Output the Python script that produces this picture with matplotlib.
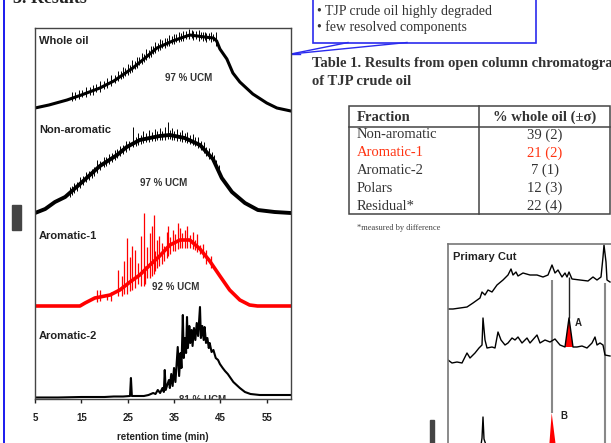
import numpy as np
import matplotlib.pyplot as plt
from matplotlib.patches import Rectangle

plt.rcParams['font.family'] = ['Liberation Sans', 'DejaVu Sans']
SERIF = ['Liberation Serif', 'DejaVu Serif']

# ---- chromatograms: retention time (min) vs response (arbitrary units)
wo_t = [5.0, 8.0, 11.9, 15.0, 19.0, 22.0, 26.1, 28.5, 31.3, 34.7, 36.5, 38.4, 40.0, 41.6,
        43.5, 44.2, 44.9, 46.4, 47.7, 49.2, 52.0, 55.0, 57.2, 60.2]
wo_y = [4, 7, 12, 17, 24, 31, 44, 53, 64, 71, 74, 77, 76, 75, 74, 71, 63, 53, 39, 30, 18, 9, 4, 1]
wo_spk_t = [13.0, 14.5, 16.0, 17.5, 19.0, 20.5, 21.5, 23.0, 24.0, 25.0, 26.0, 27.0, 28.0, 29.0,
            30.0, 31.0, 32.0, 33.0, 34.0, 35.0, 36.0, 37.0, 38.3, 39.2, 40.3, 41.2, 42.0, 43.0, 44.0]
wo_spk_lo = [11, 13, 15, 17, 20, 24, 26, 31, 34, 37, 40, 44, 48, 52, 55, 59, 62, 64, 66, 68, 70,
             71, 73, 72, 71, 71, 70, 70, 66]
wo_spk_hi = [20, 22, 25, 27, 31, 34, 37, 41, 45, 48, 52, 55, 59, 63, 66, 70, 73, 74, 77, 78, 80,
             81, 83, 81, 82, 80, 79, 80, 80]
wo_hair_t = [13.7, 15.2, 16.8, 18.2, 19.8, 22.2, 23.5, 24.5, 25.5, 26.5, 27.5, 28.5, 29.5, 30.5,
             31.5, 32.5, 33.5, 34.5, 35.5, 36.5, 37.5, 38.8, 39.7, 40.8, 41.6, 42.5, 43.5]
wo_hair_lo = [12, 15, 17, 20, 23, 29, 33, 36, 39, 43, 47, 50, 54, 58, 61, 64, 66, 68, 70, 71, 73,
              74, 73, 73, 72, 72, 71]
wo_hair_hi = [20, 22, 25, 28, 31, 37, 41, 44, 47, 51, 55, 58, 62, 66, 69, 72, 74, 76, 78, 79, 81,
              82, 81, 80, 80, 79, 78]

na_t = [5.0, 7.2, 9.3, 11.5, 14.7, 19.0, 22.7, 24.8, 27.6, 31.9, 34.1, 37.3, 40.6, 43.4, 45.3,
        47.5, 50.3, 53.1, 56.7, 60.2]
na_y = [0, 4, 11, 16, 29, 47, 58, 66, 73, 77, 78, 75, 68, 54, 35, 21, 10, 3, 1, 0]
na_spk_t = [12.5, 13.5, 14.7, 16.0, 17.2, 18.4, 19.8, 21.0, 22.2, 23.4, 24.6, 26.1, 27.2, 28.4,
            29.6, 30.8, 32.0, 33.0, 33.7, 34.6, 35.6, 36.7, 37.8, 39.0, 40.2, 41.5, 42.6, 43.6, 44.6]
na_spk_lo = [16, 20, 25, 31, 35, 40, 46, 49, 53, 57, 61, 66, 68, 70, 71, 72, 73, 73, 74, 73, 72,
             71, 70, 68, 65, 60, 54, 48, 38]
na_spk_hi = [26, 30, 36, 41, 44, 53, 56, 59, 63, 67, 72, 86, 80, 82, 83, 84, 85, 86, 91, 85, 84,
             83, 81, 79, 76, 71, 65, 58, 48]
na_hair_t = [13.0, 14.1, 15.3, 16.6, 17.8, 19.1, 20.4, 21.6, 22.8, 24.0, 25.3, 26.7, 27.8, 29.0,
             30.2, 31.4, 32.5, 34.2, 35.1, 36.2, 37.3, 38.4, 39.6, 40.8, 42.0, 43.1, 44.1]
na_hair_lo = [18, 22, 28, 33, 37, 43, 47, 51, 55, 59, 63, 67, 69, 71, 72, 73, 73, 74, 73, 72, 71,
              69, 67, 63, 57, 52, 44]
na_hair_hi = [27, 31, 37, 42, 46, 52, 56, 60, 64, 68, 72, 76, 78, 80, 81, 82, 82, 83, 82, 81, 80,
              78, 76, 72, 66, 61, 53]

a1_t = [5.0, 14.7, 15.8, 17.9, 21.2, 23.3, 25.5, 27.6, 29.8, 31.9, 34.1, 36.3, 38.4, 40.6, 42.7,
        44.9, 47.0, 49.2, 51.3, 53.0, 60.2]
a1_y = [0, 0, 3, 8, 11, 16, 24, 31, 41, 50, 61, 66, 66, 57, 45, 30, 16, 6, 1, 0, 0]
a1_spk_t = [18.4, 19.0, 20.5, 22.9, 24.8, 25.5, 26.6, 27.2, 28.5, 29.1, 29.8, 30.7, 31.3, 32.4,
            33.4, 34.1, 34.7, 35.8, 36.7, 37.3, 38.4, 39.5, 40.6]
a1_spk_lo = [4, 5, 6, 10, 12, 15, 18, 22, 20, 28, 28, 32, 38, 42, 48, 52, 55, 57, 58, 58, 58, 56, 52]
a1_spk_hi = [16, 16, 12, 36, 68, 49, 56, 43, 93, 59, 73, 91, 66, 63, 74, 69, 76, 83, 73, 76, 71, 66, 61]
a1_hair_t = [21.5, 23.8, 24.3, 26.0, 27.9, 28.8, 30.2, 31.0, 31.8, 32.9, 33.8, 35.2, 36.2, 37.8,
             39.0, 40.0, 41.2, 42.0, 43.0]
a1_hair_lo = [5, 10, 12, 16, 20, 22, 30, 35, 40, 45, 50, 55, 58, 58, 57, 54, 48, 42, 38]
a1_hair_hi = [14, 30, 45, 60, 70, 40, 80, 55, 70, 60, 80, 72, 78, 80, 74, 72, 62, 56, 50]

a2_t = [5.0, 10.0, 15.0, 20.0, 22.0, 24.0, 25.5, 25.7, 25.9, 27.0, 28.5, 29.5, 30.5, 31.0, 31.5,
        32.0, 32.5, 32.8, 33.0, 33.2, 33.6, 33.9, 34.1, 34.4, 34.7, 35.0, 35.3, 35.8, 36.1, 36.4,
        36.6, 36.9, 37.1, 37.4, 37.6, 37.8, 38.0, 38.3, 38.5, 38.8, 39.0, 39.3, 39.6, 39.9, 40.2,
        40.6, 40.8, 41.1, 41.4, 41.6, 41.9, 42.2, 42.5, 42.7, 43.1, 43.5, 44.0, 44.5, 44.9, 45.5,
        46.0, 46.6, 47.2, 47.8, 48.5, 49.2, 50.3, 51.5, 53.5, 56.0, 58.0, 60.2]
a2_y = [0.5, 0.5, 1, 1, 1.5, 1.5, 2, 20, 2, 2, 2, 3, 5, 4, 8, 5, 10, 6, 28, 8, 14, 18, 10, 24,
        12, 30, 16, 51, 22, 45, 30, 83, 40, 60, 45, 81, 50, 72, 55, 68, 52, 70, 58, 75, 62, 91,
        60, 72, 58, 71, 55, 60, 50, 55, 46, 48, 40, 38, 34, 30, 27, 24, 20, 16, 13, 10, 6, 4, 3,
        3, 3, 3]

ucm_labels = ['97 % UCM', '97 % UCM', '92 % UCM', '81 % UCM']
trace_names = ['Whole oil', 'Non-aromatic', 'Aromatic-1', 'Aromatic-2']
xticks = [5, 15, 25, 35, 45, 55]

# ---- table 1
fractions = ['Non-aromatic', 'Aromatic-1', 'Aromatic-2', 'Polars', 'Residual*']
pct_whole = ['39 (2)', '21 (2)', '7 (1)', '12 (3)', '22 (4)']

# ---- primary cut traces (scan, response)
pc_top_t = [0, 5, 12, 19, 25, 32, 34, 37, 40, 44, 49, 55, 60, 63, 65, 68, 70, 75, 82, 89, 95, 100,
            104, 107, 110, 114, 117, 119, 121, 124, 132, 140, 145, 149, 153, 155, 156, 158, 159, 162]
pc_top_y = [134, 134, 135, 136, 140, 145, 151, 148, 153, 151, 158, 163, 168, 174, 168, 171, 167,
            170, 168, 168, 166, 168, 178, 170, 173, 166, 170, 166, 171, 164, 163, 162, 166, 163,
            166, 186, 198, 181, 163, 161]
pc_mid_t = [0, 4, 9, 14, 17, 19, 22, 27, 31, 34, 35, 37, 39, 44, 47, 50, 53, 57, 60, 64, 67, 70,
            74, 79, 82, 89, 92, 97, 102, 107, 112, 117, 121, 125, 129, 134, 139, 144, 147, 149,
            152, 155, 157, 162]
pc_mid_y = [83, 80, 81, 80, 86, 90, 85, 90, 95, 98, 125, 103, 95, 96, 95, 111, 103, 98, 100, 105,
            103, 106, 100, 105, 100, 108, 100, 103, 101, 104, 98, 96, 125, 96, 96, 97, 95, 100,
            106, 98, 100, 98, 88, 87]
pc_bot_t = [30, 33, 34, 35, 36, 38]
pc_bot_y = [-2, -2, 5, 26, 4, -2]
peakA_t = [117, 121, 125]
peakA_y = [96, 125, 96]
peakB_t = [101.3, 103.7, 107.7]
peakB_y = [-2, 30, -2]

W, H = 611, 443
fig = plt.figure(figsize=(W / 100, H / 100), dpi=100)

# page overlay in pixel coordinates
pg = fig.add_axes([0, 0, 1, 1])
pg.set_xlim(0, W)
pg.set_ylim(H, 0)
pg.axis('off')

pg.plot([3.5, 3.5], [0, H], color='#1a1aee', lw=1.4)
pg.text(13, 3, '3. Results', family=SERIF, fontweight='bold', fontsize=13, color='#222',
        va='baseline')
pg.add_patch(Rectangle((12, 205), 9, 25, color='#444'))
pg.add_patch(Rectangle((430, 420), 4, 23, color='#444'))

# callout box
pg.add_patch(Rectangle((312.5, -10), 223.5, 52.5, fill=False, ec='#2a2aee', lw=1.2))
pg.text(317, 11, '\u2022 TJP crude oil highly degraded', family=SERIF, fontsize=10,
        color='#333', va='center')
pg.text(317, 27, '\u2022 few resolved components', family=SERIF, fontsize=10,
        color='#333', va='center')
pg.plot([348, 291], [42.5, 54], color='#2a2aee', lw=1)
pg.plot([407, 291], [42.5, 54], color='#2a2aee', lw=1)
pg.plot([291, 300], [54, 54], color='#2a2aee', lw=1)

# table
pg.text(312, 63, 'Table 1. Results from open column chromatography', family=SERIF,
        fontweight='bold', fontsize=10.5, color='#333', va='center')
pg.text(312, 81, 'of TJP crude oil', family=SERIF, fontweight='bold', fontsize=10.5,
        color='#333', va='center')
pg.add_patch(Rectangle((349, 106), 261, 108, fill=False, ec='#444', lw=1.1))
pg.plot([349, 610], [127, 127], color='#444', lw=1.1)
pg.plot([479, 479], [106, 214], color='#444', lw=1.1)
pg.text(357, 117.5, 'Fraction', family=SERIF, fontweight='bold', fontsize=10.5, color='#333',
        va='center')
pg.text(545, 117.5, '% whole oil (\u00b1\u03c3)', family=SERIF, fontweight='bold',
        fontsize=10.5, color='#333', va='center', ha='center')
row_y = [135, 153, 170.5, 188, 206]
for name, val, ry in zip(fractions, pct_whole, row_y):
    c = '#ff3311' if name == 'Aromatic-1' else '#333'
    pg.text(357, ry, name, family=SERIF, fontsize=10.5, color=c, va='center')
    pg.text(545, ry, val, family=SERIF, fontsize=10.5, color=c, va='center', ha='center')
pg.text(357, 228, '*measured by difference', family=SERIF, fontsize=6, color='#444',
        va='center')

# ---- main chromatogram panel
ax = fig.add_axes([35 / W, 1 - 399 / H, 256 / W, 371 / H])
ax.set_xlim(5, 60.24)
ax.set_ylim(0, 371)
for s in ax.spines.values():
    s.set_color('#444')
    s.set_linewidth(1)
ax.set_yticks([])
ax.set_xticks(xticks)
ax.set_xticklabels([str(v) for v in xticks], fontsize=7, fontweight='bold')
ax.tick_params(axis='x', direction='out', length=3, width=1, pad=7, colors='#222')

bases = [287, 186, 93, 1]


def hair(t, lo, hi, base, color, lw):
    ax.vlines(t, np.array(lo) + base, np.array(hi) + base, color=color, lw=lw)


ax.plot(wo_t, np.array(wo_y) + bases[0], color='black', lw=2.2)
hair(wo_spk_t, wo_spk_lo, wo_spk_hi, bases[0], 'black', 0.7)
hair(wo_hair_t, wo_hair_lo, wo_hair_hi, bases[0], 'black', 0.7)
ax.plot(na_t, np.array(na_y) + bases[1], color='black', lw=2.8)
hair(na_spk_t, na_spk_lo, na_spk_hi, bases[1], 'black', 0.7)
hair(na_hair_t, na_hair_lo, na_hair_hi, bases[1], 'black', 0.7)
ax.plot(a1_t, np.array(a1_y) + bases[2], color='red', lw=2.6)
hair(a1_spk_t, a1_spk_lo, a1_spk_hi, bases[2], 'red', 0.9)
hair(a1_hair_t, a1_hair_lo, a1_hair_hi, bases[2], 'red', 0.9)
ax.plot(a2_t, np.array(a2_y) + bases[3], color='black', lw=1.5)

name_y = [358, 269, 163, 63]
for name, ny in zip(trace_names, name_y):
    ax.text(5.9, ny, name, fontsize=8, fontweight='bold', color='#222', va='center')
ucm_pos = [(38.2, 321), (32.8, 216), (35.4, 112), (41.2, -1)]
for lab, (ux, uy) in zip(ucm_labels, ucm_pos):
    ax.text(ux, uy, lab, fontsize=7, fontweight='bold', color='#333', ha='center',
            va='center', clip_on=True)

fig.text(162.6 / W, 1 - 437 / H, 'retention time (min)', fontsize=7, fontweight='bold',
         color='#222', ha='center', va='center')

# ---- primary cut panel
pc = fig.add_axes([448 / W, 0, (W - 448) / W, 199 / H])
pc.set_xlim(0, W - 448)
pc.set_ylim(0, 199)
pc.set_xticks([])
pc.set_yticks([])
pc.spines['right'].set_visible(False)
pc.spines['bottom'].set_visible(False)
for s in ('left', 'top'):
    pc.spines[s].set_color('#777')
    pc.spines[s].set_linewidth(1.2)
pc.patch.set_alpha(0)

pc.vlines([104], 30, 163, color='#888', lw=1.5)
pc.vlines([156.5], 0, 160, color='#888', lw=1.5)
pc.vlines([121], 125, 166, color='#222', lw=1)
pc.plot(pc_top_t, pc_top_y, color='black', lw=1)
pc.plot(pc_mid_t, pc_mid_y, color='black', lw=1)
pc.plot(pc_bot_t, pc_bot_y, color='black', lw=1)
pc.fill(peakA_t, peakA_y, color='red', lw=0)
pc.fill(peakB_t, peakB_y, color='red', lw=0)
pc.text(5, 186, 'Primary Cut', fontsize=8, fontweight='bold', color='#222', va='center')
pc.text(127, 120, 'A', fontsize=7, fontweight='bold', color='#222', va='center')
pc.text(112, 27, 'B', fontsize=7, fontweight='bold', color='#222', va='center')

fig.savefig('out.png', dpi=100)
